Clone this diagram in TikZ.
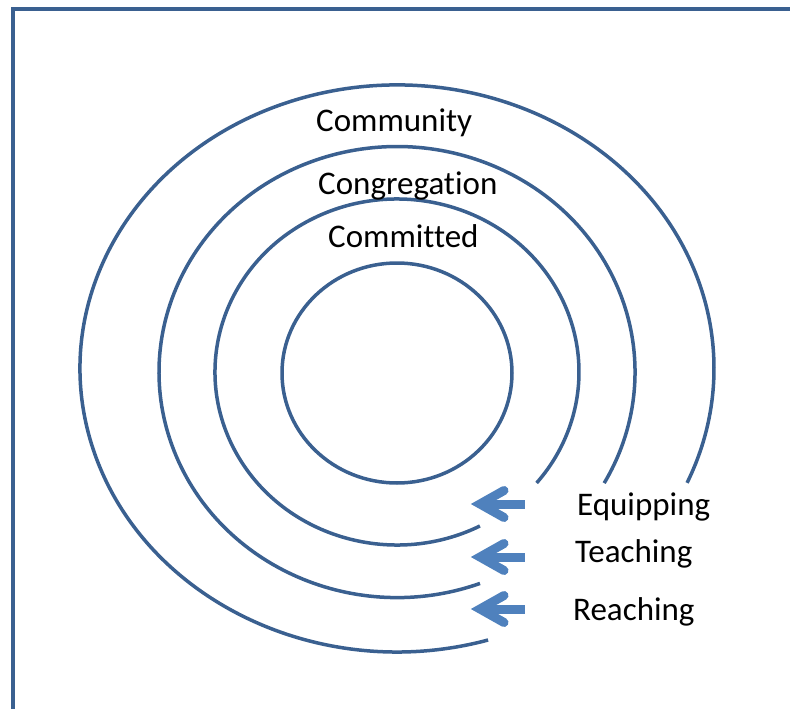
\documentclass[tikz,border=0pt]{standalone}
\usepackage{fontspec}
\setmainfont[Ligatures=NoCommon]{Carlito}
\definecolor{ringblue}{HTML}{3A6090}
\definecolor{arrowblue}{HTML}{4F81BD}
\tikzset{
  ring/.style={draw=ringblue, line width=3.5pt},
  frameline/.style={draw=ringblue, line width=4pt},
  lbl/.style={anchor=base west, inner sep=0pt, font=\fontsize{33}{40}\selectfont, text=black},
  chevron/.style={draw=arrowblue, line width=9pt, line cap=round, line join=miter},
  shaft/.style={draw=arrowblue, line width=9pt, line cap=butt}
}
\newcommand{\leftarrowat}[1]{%
  \draw[shaft] (482,#1) -- (525,#1);
  \draw[chevron] (504,#1-13.5) -- (480,#1) -- (504,#1+13.5);
}
\begin{document}
\begin{tikzpicture}[x=1pt,y=-1pt]
\useasboundingbox (0,0) rectangle (790,709);
% frame
\draw[frameline] (13,709) -- (13,9.5) -- (790,9.5);
% rings
\draw[ring] (397,373) ellipse [x radius=115, y radius=110];
\draw[ring] (479.9,526.0) arc[start angle=62.9, end angle=399.9, x radius=182, y radius=173];
\draw[ring] (480.0,583.4) arc[start angle=69.6, end angle=389.5, x radius=238, y radius=225.5];
\draw[ring] (488.1,640.0) arc[start angle=73.3, end angle=383.8, x radius=317, y radius=283.5];
% labels
\node[lbl] (community) at (316,131) {Community};
\node[lbl] (congregation) at (318,194) {Congregation};
\node[lbl] (committed) at (328,247) {Committed};
\node[lbl] (equipping) at (577,515) {Equipping};
\node[lbl] (teaching) at (575,562) {Teaching};
\node[lbl] (reaching) at (573,620) {Reaching};
% arrows
\leftarrowat{504}
\leftarrowat{557}
\leftarrowat{609}
\end{tikzpicture}
\end{document}
